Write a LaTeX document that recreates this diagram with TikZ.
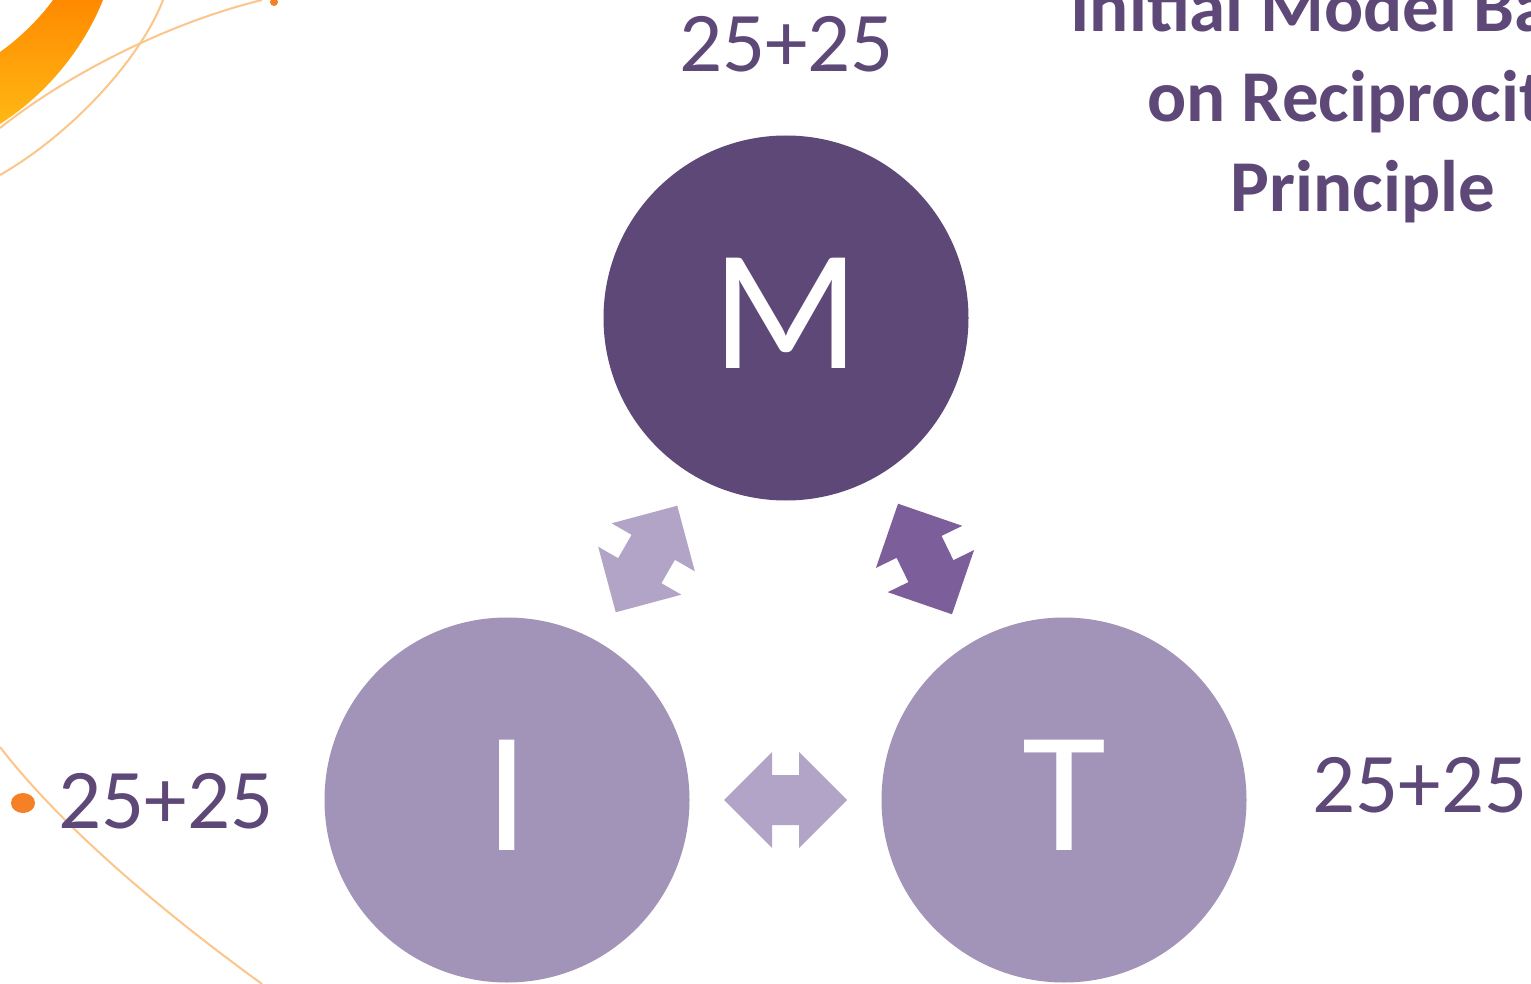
\documentclass[tikz,border=0pt]{standalone}
\usepackage{fontspec}
\setmainfont{Carlito}
\usetikzlibrary{calc}
\definecolor{mdark}{HTML}{5E4878}
\definecolor{mlight}{HTML}{A293B8}
\definecolor{arrlight}{HTML}{B1A4C6}
\definecolor{arrdark}{HTML}{7B5E9A}
\definecolor{txt}{HTML}{5E4878}
\definecolor{orline}{HTML}{FCC68A}
\definecolor{ordot}{HTML}{F58025}
\definecolor{oryel}{HTML}{FFB814}
\definecolor{ordeep}{HTML}{FF8A00}
\tikzset{
  circ/.style={circle, minimum size=182.5pt, inner sep=0pt, draw=none},
  letter/.style={text=white, font=\fontsize{86pt}{92pt}\selectfont, inner sep=0pt},
  score/.style={text=txt, font=\fontsize{42.5pt}{50pt}\selectfont, inner sep=0pt, anchor=base},
  titl/.style={text=txt, font=\bfseries\fontsize{36.5pt}{44pt}\selectfont, inner sep=0pt, anchor=base},
  deco/.style={draw=orline, line width=1pt},
  dblarr/.pic={\fill[pic actions] (-61.5,0) -- (-13.5,-48) -- (-13.5,-25) -- (13.5,-25) -- (13.5,-48) -- (61.5,0) -- (13.5,48) -- (13.5,25) -- (-13.5,25) -- (-13.5,48) -- cycle;}
}
\begin{document}
\begin{tikzpicture}[x=0.5pt,y=-0.5pt]
\useasboundingbox (0,0) rectangle (1531,984);
\clip (0,0) rectangle (1531,984);
\fill[white] (0,0) rectangle (1531,984);
% decoration
\shade[top color=ordeep, bottom color=oryel] (0,52) .. controls (20,38) and (40,18) .. (53,0) -- (103,0) .. controls (85,45) and (50,92) .. (0,124) -- cycle;
\draw[deco] (0,175) .. controls (70,135) and (140,60) .. (163,0);
\draw[deco] (0,128) .. controls (60,80) and (160,25) .. (262,0);
\fill[ordot] (274,2) circle (4);
\draw[deco] (0,747) .. controls (60,825) and (160,910) .. (262,984);
\fill[ordot] (23,803) ellipse (12 and 10);
% circles
\node[circ, fill=mdark] (M) at (786,318) {};
\node[circ, fill=mlight] (I) at (507,800) {};
\node[circ, fill=mlight] (T) at (1064,800) {};
\node[letter] (Ml) at ([yshift=2.5pt]M.center) {M};
\node[letter] (Il) at ([yshift=2.5pt]I.center) {I};
\node[letter] (Tl) at ([yshift=2.5pt]T.center) {T};
% arrows
\pic[fill=arrlight, rotate=60] at ($(I)!0.5!(M)$) {dblarr};
\pic[fill=arrdark, rotate=116] at ($(M)!0.5!(T)$) {dblarr};
\pic[fill=arrlight] at ($(I)!0.5!(T)$) {dblarr};
% scores
\node[score] (sM) at (786.5,72) {25+25};
\node[score] (sI) at (166,828) {25+25};
\node[score] (sT) at (1420,812) {25+25};
% title
\node[titl] (t1) at (1363,32) {Initial Model Based};
\node[titl] (t2) at (1363,122) {on Reciprocity};
\node[titl] (t3) at (1363,212) {Principle};
\end{tikzpicture}
\end{document}
